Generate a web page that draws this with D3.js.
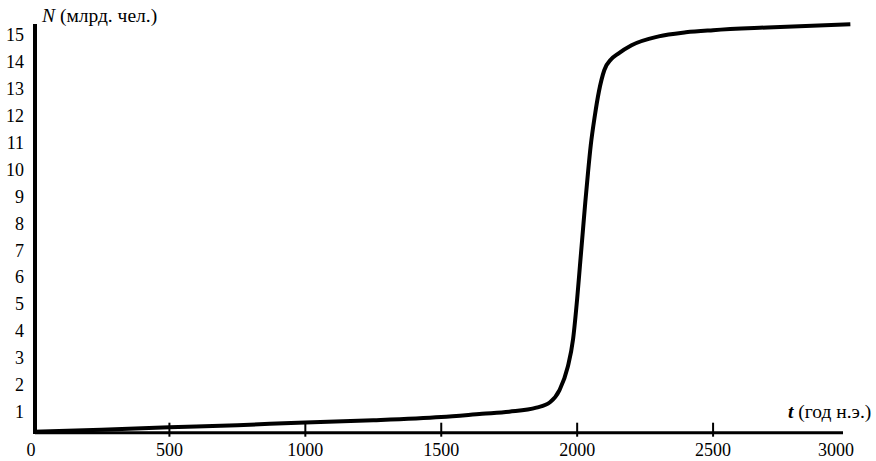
<!DOCTYPE html>
<html>
<head>
<meta charset="utf-8">
<script src="https://cdn.jsdelivr.net/npm/d3@7"></script>
<style>
  body { margin: 0; background: #fff; }
  text { font-family: "Liberation Serif", "DejaVu Serif", serif; fill: #000; }
</style>
</head>
<body>
<div id="chart"></div>
<script>
// population curve (year, billions)
var years = [0, 250, 500, 750, 1000, 1250, 1500, 1650, 1750, 1850, 1900, 1935, 1965, 1985,
  2000, 2010, 2020, 2030, 2040, 2050, 2065, 2080, 2100, 2125, 2150, 2200, 2300, 2400, 2500, 2700, 3005];
var population = [0.25, 0.33, 0.42, 0.5, 0.6, 0.68, 0.8, 0.92, 1.0, 1.15, 1.35, 1.8, 2.65, 3.7,
  5.2, 6.4, 7.6, 8.8, 9.9, 10.9, 12.0, 12.9, 13.7, 14.1, 14.3, 14.62, 14.95, 15.1, 15.18, 15.28, 15.4];

var xTicks = [500, 1000, 1500, 2000, 2500];
var xLabels = [0, 500, 1000, 1500, 2000, 2500, 3000];
var yLabels = d3.range(1, 16);

var width = 876, height = 461;

var svg = d3.select("#chart")
  .append("svg")
  .attr("width", width)
  .attr("height", height);

var x = d3.scaleLinear().domain([0, 3000]).range([33.5, 849]);
var y = d3.scaleLinear().domain([0, 15]).range([438.6, 35]);

var axisY = 432.7;

// y labels (no ticks on this axis)
svg.selectAll(".ylab")
  .data(yLabels)
  .enter()
  .append("text")
  .attr("class", "ylab")
  .attr("x", 24)
  .attr("y", function (d) { return y(d); })
  .attr("dy", "0.35em")
  .attr("text-anchor", "end")
  .style("font-size", "18px")
  .text(function (d) { return d; });

// x labels
svg.selectAll(".xlab")
  .data(xLabels)
  .enter()
  .append("text")
  .attr("class", "xlab")
  .attr("x", function (d) {
    if (d === 0) return x(d) - 2.5;
    if (d === 3000) return x(d) - 13;
    return x(d);
  })
  .attr("y", 456)
  .attr("text-anchor", "middle")
  .style("font-size", "18px")
  .text(function (d) { return d; });

// x axis line and ticks
svg.append("line")
  .attr("x1", 35).attr("x2", 843)
  .attr("y1", axisY).attr("y2", axisY)
  .style("stroke", "#000")
  .style("stroke-width", 3);

svg.selectAll(".xtick")
  .data(xTicks)
  .enter()
  .append("line")
  .attr("class", "xtick")
  .attr("x1", function (d) { return x(d); })
  .attr("x2", function (d) { return x(d); })
  .attr("y1", axisY - 10)
  .attr("y2", axisY + 4)
  .style("stroke", "#000")
  .style("stroke-width", 2);

// y axis line
svg.append("line")
  .attr("x1", 35).attr("x2", 35)
  .attr("y1", 24).attr("y2", 434)
  .style("stroke", "#000")
  .style("stroke-width", 4);

// the curve
var line = d3.line()
  .x(function (d, i) { return x(years[i]); })
  .y(function (d) { return y(d); })
  .curve(d3.curveMonotoneX);

svg.append("path")
  .datum(population)
  .attr("d", line)
  .style("fill", "none")
  .style("stroke", "#000")
  .style("stroke-width", 4)
  .style("stroke-linejoin", "round");

// axis titles
var yt = svg.append("text")
  .attr("x", 42)
  .attr("y", 22)
  .style("font-size", "19.5px");
yt.append("tspan").style("font-style", "italic").text("N");
yt.append("tspan").text(" (млрд. чел.)");

var xt = svg.append("text")
  .attr("x", 788)
  .attr("y", 418)
  .style("font-size", "19.5px");
xt.append("tspan").style("font-style", "italic").style("font-weight", "bold").text("t");
xt.append("tspan").text(" (год н.э.)");
</script>
</body>
</html>
